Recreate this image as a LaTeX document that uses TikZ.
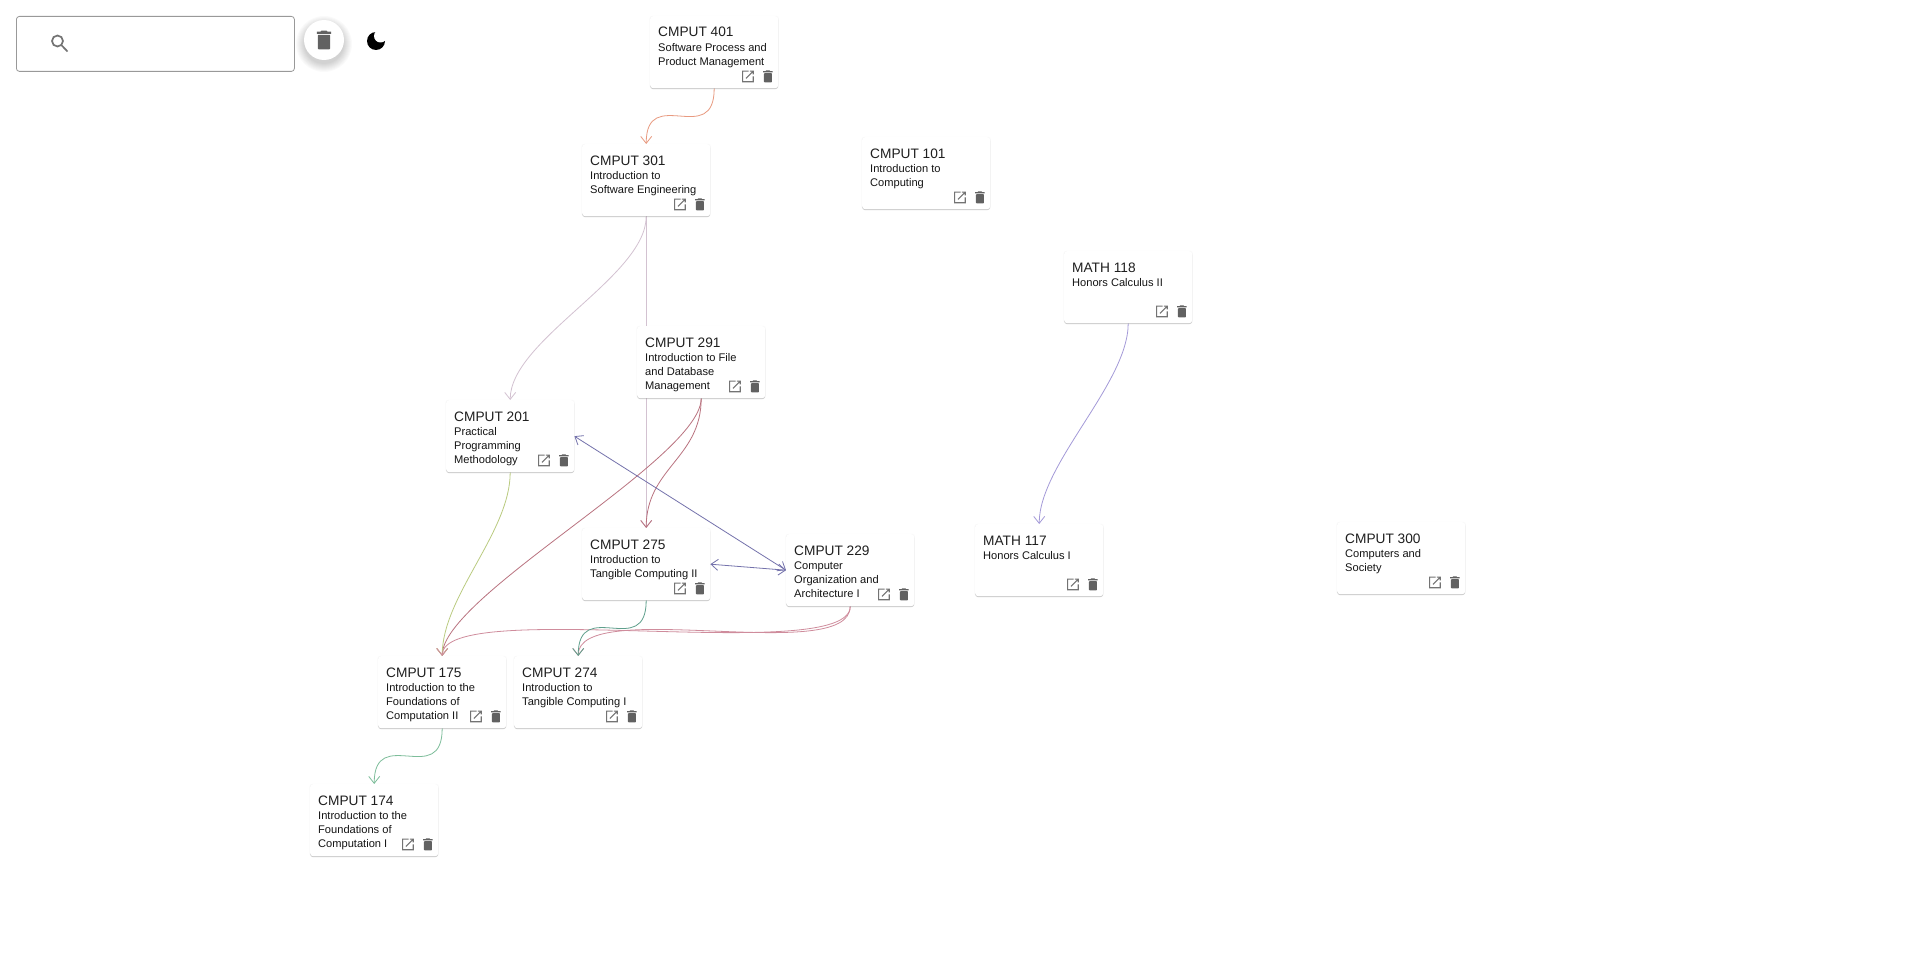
\documentclass[tikz,border=0pt]{standalone}
\usepackage{fontspec}
\setmainfont{Liberation Sans}
\usetikzlibrary{arrows.meta,backgrounds,calc,shadows}
\definecolor{wireorange}{HTML}{E89A80}
\definecolor{wirelilac}{HTML}{D3C2D1}
\definecolor{wirered}{HTML}{B9727F}
\definecolor{wirepink}{HTML}{CF8C9C}
\definecolor{wireolive}{HTML}{BACB80}
\definecolor{wireblue}{HTML}{7472AC}
\definecolor{wireteal}{HTML}{5F9F8C}
\definecolor{wiregreen}{HTML}{7DBD9A}
\definecolor{wireviolet}{HTML}{A49AD8}
\newcommand{\coursecard}[5]{
  \node[card] (#1) at (#2,#3) {};
  \node[cardtitle] (#1-title) at ($(#1.north west)+(8,21)$) {#4};
  \node[cardtext] (#1-text) at ($(#1.north west)+(8,26)$) {\rule{0pt}{9pt}#5};
  \pic at ($(#1.south east)+(-30.5,-12)$) {openicon};
  \pic at ($(#1.south east)+(-10.5,-12)$) {trashicon};
}
\newcommand{\link}[3]{\draw[wire,#1] (#2.south) .. controls +(0,60) and +(0,-60) .. (#3.north);}
\begin{document}
\begin{tikzpicture}[x=1pt, y=-1pt,
  card/.style={anchor=north west, fill=white, rounded corners=3pt, inner sep=0pt,
    minimum width=128pt, minimum height=72pt,
    drop shadow={shadow xshift=0pt, shadow yshift=0pt, shadow scale=1.012, opacity=.05, fill=black!50},
    drop shadow={shadow xshift=0pt, shadow yshift=-1pt, opacity=.35, fill=black!55}},
  cardtitle/.style={anchor=base west, inner sep=0pt, text=black!88, font=\fontsize{13.7}{16}\selectfont},
  cardtext/.style={anchor=north west, inner sep=0pt, align=left, text=black!92, font=\fontsize{11.1}{14}\selectfont},
  wire/.style={line width=.8pt, -{Straight Barb[length=7pt,width=11pt]}},
  twoway/.style={line width=.8pt, {Straight Barb[length=7pt,width=11pt]}-{Straight Barb[length=7pt,width=11pt]}},
  openicon/.pic={
    \draw[scale=2/3, line width=1.1pt, draw=black!55] (1,-8) -- (-8,-8) -- (-8,8) -- (8,8) -- (8,0)
      (3,-8) -- (8,-8) -- (8,-3) (8,-8) -- (-3,3);
  },
  trashicon/.pic={
    \fill[scale=2/3, black!62, rounded corners=.8pt] (-6,-5) rectangle (6,9);
    \fill[scale=2/3, black!62] (-7,-8) -- (-3.5,-8) -- (-2.5,-9) -- (2.5,-9) -- (3.5,-8) -- (7,-8) -- (7,-6) -- (-7,-6) -- cycle;
  }]

\coursecard{c401}{650}{16}{CMPUT 401}{Software Process and\\Product Management}
\coursecard{c301}{582}{144}{CMPUT 301}{Introduction to\\Software Engineering}
\coursecard{c101}{862}{137}{CMPUT 101}{Introduction to\\Computing}
\coursecard{m118}{1064}{251}{MATH 118}{Honors Calculus II}
\coursecard{c291}{637}{326}{CMPUT 291}{Introduction to File\\and Database\\Management}
\coursecard{c201}{446}{400}{CMPUT 201}{Practical\\Programming\\Methodology}
\coursecard{c275}{582}{528}{CMPUT 275}{Introduction to\\Tangible Computing II}
\coursecard{c229}{786}{534}{CMPUT 229}{Computer\\Organization and\\Architecture I}
\coursecard{m117}{975}{524}{MATH 117}{Honors Calculus I}
\coursecard{c300}{1337}{522}{CMPUT 300}{Computers and\\Society}
\coursecard{c175}{378}{656}{CMPUT 175}{Introduction to the\\Foundations of\\Computation II}
\coursecard{c274}{514}{656}{CMPUT 274}{Introduction to\\Tangible Computing I}
\coursecard{c174}{310}{784}{CMPUT 174}{Introduction to the\\Foundations of\\Computation I}

\begin{scope}[on background layer]
  \path[use as bounding box, fill=white] (0,0) rectangle (1920,966);
  \link{wireorange}{c401}{c301}
  \link{wirelilac}{c301}{c201}
  \draw[wire,wirelilac] (c301.south) -- (c275.north);
  \link{wirered}{c291}{c275}
  \link{wirered}{c291}{c175}
  \link{wireolive}{c201}{c175}
  \link{wirepink}{c229}{c175}
  \link{wirepink}{c229}{c274}
  \link{wireteal}{c275}{c274}
  \link{wiregreen}{c175}{c174}
  \link{wireviolet}{m118}{m117}
  \draw[twoway,wireblue] (c201.east) -- (c229.west);
  \draw[twoway,wireblue] (c275.east) -- (c229.west);
\end{scope}

\node[anchor=north west, draw=black!40, rounded corners=3pt, line width=.8pt, minimum width=278pt, minimum height=55pt] (searchbox) at (16,16) {};
\draw[black!55, line width=1.7pt] (57.5,41) circle (5.5pt) (61.8,45.5) -- (67.5,51.5);
\foreach \r in {20,21,...,28} {\fill[black, opacity=.018] (324,44) circle (\r pt);}
\node[circle, fill=white, minimum size=40pt, inner sep=0pt] (clearall) at (324,40) {};
\pic[scale=1.55] at (clearall) {trashicon};
\fill[black] (376,41) circle (9pt);
\fill[white] (380.5,36) circle (6.5pt);
\end{tikzpicture}
\end{document}
